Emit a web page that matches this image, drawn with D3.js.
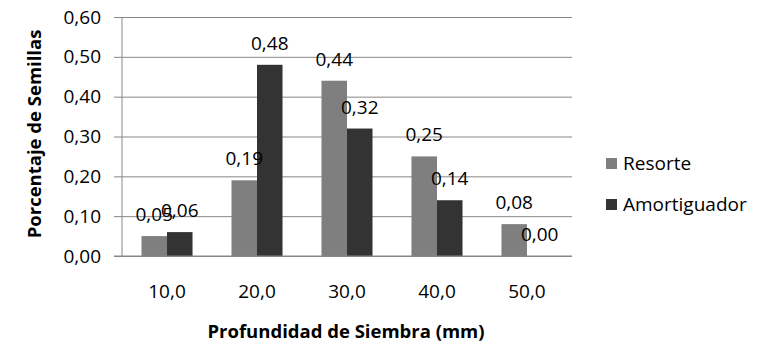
<!DOCTYPE html>
<html>
<head>
<meta charset="utf-8">
<script src="https://cdn.jsdelivr.net/npm/d3@7"></script>
<style>
  body { margin: 0; background: #fff; }
  svg { display: block; font-family: "Open Sans", sans-serif; }
</style>
</head>
<body>
<svg id="chart" width="760" height="352"></svg>
<script>
const categories = ['10,0', '20,0', '30,0', '40,0', '50,0'];
const seriesNames = ['Resorte', 'Amortiguador'];
const resorte = [0.05, 0.19, 0.44, 0.25, 0.08];
const amortiguador = [0.06, 0.48, 0.32, 0.14, 0.00];
const yTicks = [0, 0.1, 0.2, 0.3, 0.4, 0.5, 0.6];
const colors = ['#7f7f7f', '#333333'];

const svg = d3.select('#chart');
const plotL = 122, plotR = 572, plotT = 17, plotB = 256;
const fmt = v => d3.format('.2f')(v).replace('.', ',');

const x0 = d3.scaleBand().domain(categories).range([plotL, plotR])
  .paddingInner(0.433).paddingOuter(0.2167);
const x1 = d3.scaleBand().domain(seriesNames).range([0, x0.bandwidth()]);
const y = d3.scaleLinear().domain([0, 0.6]).range([plotB, plotT]);

// gridlines + y labels
svg.append('g').attr('transform', `translate(${plotL},0)`)
  .call(d3.axisLeft(y).tickValues(yTicks).tickSize(-(plotR - plotL)).tickFormat(fmt))
  .call(g => g.select('.domain').remove())
  .call(g => g.selectAll('.tick line').attr('stroke', '#868686').attr('x1', -8))
  .call(g => g.selectAll('.tick text').attr('x', -21).attr('fill', '#000')
    .attr('font-size', '19px').attr('font-family', '"Open Sans", sans-serif'));

// vertical axis line
svg.append('line').attr('x1', plotL).attr('x2', plotL).attr('y1', plotT).attr('y2', plotB)
  .attr('stroke', '#868686');

const rows = categories.map((c, i) => ({ c, vals: [resorte[i], amortiguador[i]] }));

const groups = svg.selectAll('.grp').data(rows).join('g')
  .attr('transform', d => `translate(${x0(d.c)},0)`);

groups.selectAll('rect').data(d => d.vals.map((v, k) => ({ v, k }))).join('rect')
  .attr('x', d => x1(seriesNames[d.k]))
  .attr('width', x1.bandwidth())
  .attr('y', d => y(d.v))
  .attr('height', d => plotB - y(d.v))
  .attr('fill', d => colors[d.k]);

// baseline drawn over bars
svg.append('line').attr('x1', plotL - 8).attr('x2', plotR).attr('y1', plotB).attr('y2', plotB)
  .attr('stroke', '#868686');

groups.selectAll('.val').data(d => d.vals.map((v, k) => ({ v, k }))).join('text')
  .attr('x', d => x1(seriesNames[d.k]) + x1.bandwidth() / 2)
  .attr('y', d => y(d.v) - 15)
  .attr('text-anchor', 'middle')
  .attr('font-size', '19px').attr('fill', '#000')
  .text(d => fmt(d.v));

// x labels
svg.selectAll('.xl').data(categories).join('text')
  .attr('x', d => x0(d) + x0.bandwidth() / 2)
  .attr('y', 298)
  .attr('text-anchor', 'middle')
  .attr('font-size', '19px')
  .text(d => d);

svg.append('text').attr('x', 346).attr('y', 338).attr('text-anchor', 'middle')
  .attr('font-size', '18.5px').attr('font-weight', 'bold').text('Profundidad de Siembra (mm)');

svg.append('text').attr('transform', 'translate(41,134) rotate(-90)').attr('text-anchor', 'middle')
  .attr('font-size', '18.5px').attr('font-weight', 'bold').text('Porcentaje de Semillas');

// legend
const leg = svg.selectAll('.leg').data(seriesNames).join('g')
  .attr('transform', (d, i) => `translate(606,${158 + i * 41})`);
leg.append('rect').attr('width', 11).attr('height', 11).attr('fill', (d, i) => colors[i]);
leg.append('text').attr('x', 17).attr('y', 12).attr('font-size', '19px').text(d => d);
</script>
</body>
</html>
